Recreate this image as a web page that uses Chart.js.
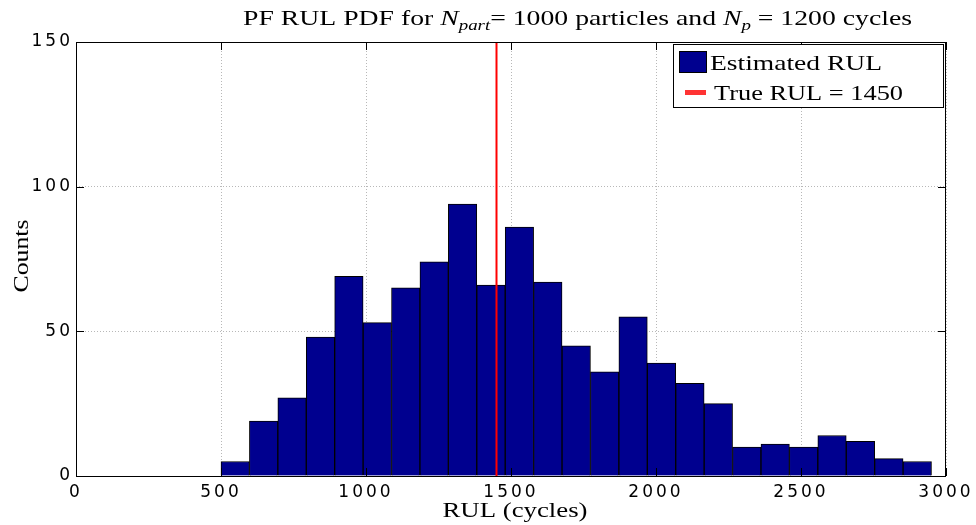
<!DOCTYPE html>
<html>
<head>
<meta charset="utf-8">
<script src="https://cdn.jsdelivr.net/npm/chart.js@4.4.1/dist/chart.umd.min.js"></script>
<style>
html,body{margin:0;padding:0;background:#fff;}
#wrap{width:976px;height:525px;position:relative;}
</style>
</head>
<body>
<div id="wrap"><canvas id="c"></canvas></div>
<script>
// ---- data ----
const binStart = 500;
const binWidth = 98;
const binCounts = [5, 19, 27, 48, 69, 53, 65, 74, 94, 66, 86, 67, 45, 36, 55, 39, 32, 25, 10, 11, 10, 14, 12, 6, 5];
const binCenters = binCounts.map((_, i) => binStart + binWidth * (i + 0.5));
const trueRUL = 1450;
const xTicks = [0, 500, 1000, 1500, 2000, 2500, 3000];
const yTicks = [0, 50, 100, 150];
const seriesLabels = ['Estimated RUL', 'True RUL = 1450'];

const SERIF = '"Liberation Serif", "Times New Roman", serif';
const SANS = '"DejaVu Sans", sans-serif';

function fitText(ctx, parts, x, y, width, align) {
  let nat = 0;
  parts.forEach(p => { ctx.font = p.font; nat += ctx.measureText(p.t).width; });
  const sx = width ? width / nat : 1;
  ctx.save();
  ctx.translate(x, y);
  ctx.scale(sx, 1);
  let cx = align === 'center' ? -nat / 2 : 0;
  ctx.textAlign = 'left';
  ctx.textBaseline = 'alphabetic';
  parts.forEach(p => {
    ctx.font = p.font;
    ctx.fillText(p.t, cx, p.dy || 0);
    cx += ctx.measureText(p.t).width;
  });
  ctx.restore();
}

const decorPlugin = {
  id: 'decor',
  beforeDraw(chart) {
    chart.ctx.letterSpacing = '3px';
  },
  beforeDatasetsDraw(chart) {
    chart.ctx.letterSpacing = '0px';
  },
  afterDraw(chart) {
    const ctx = chart.ctx;
    const a = chart.chartArea;
    const xs = chart.scales.x, ys = chart.scales.y;
    ctx.save();
    ctx.letterSpacing = '0px';
    // frame
    ctx.strokeStyle = '#000';
    ctx.lineWidth = 1;
    ctx.strokeRect(Math.round(a.left) + 0.5, Math.round(a.top) + 0.5, Math.round(a.right - a.left) - 1, Math.round(a.bottom - a.top));
    // inward ticks
    ctx.beginPath();
    xTicks.forEach(v => {
      const px = Math.round(xs.getPixelForValue(v)) + 0.5;
      ctx.moveTo(px, a.bottom); ctx.lineTo(px, a.bottom - 8);
      ctx.moveTo(px, a.top); ctx.lineTo(px, a.top + 8);
    });
    yTicks.forEach(v => {
      const py = Math.round(ys.getPixelForValue(v)) + 0.5;
      ctx.moveTo(a.left, py); ctx.lineTo(a.left + 8, py);
      ctx.moveTo(a.right, py); ctx.lineTo(a.right - 8, py);
    });
    ctx.stroke();

    ctx.fillStyle = '#000';
    // title
    const R = '22px ' + SERIF, I = 'italic 22px ' + SERIF, S = 'italic 15px ' + SERIF;
    fitText(ctx, [
      {t: 'PF RUL PDF for ', font: R},
      {t: 'N', font: I},
      {t: 'part', font: S, dy: 5},
      {t: '= 1000 particles and ', font: R},
      {t: 'N', font: I},
      {t: 'p', font: S, dy: 5},
      {t: ' = 1200 cycles', font: R}
    ], 243, 25, 669, 'left');
    // axis titles
    fitText(ctx, [{t: 'RUL (cycles)', font: R}], 515, 517, 145, 'center');
    ctx.save();
    ctx.translate(28, 256);
    ctx.rotate(-Math.PI / 2);
    fitText(ctx, [{t: 'Counts', font: R}], 0, 0, 73, 'center');
    ctx.restore();

    // legend
    const lx = 673, ly = 44, lw = 270, lh = 63;
    ctx.fillStyle = '#fff';
    ctx.fillRect(lx, ly, lw, lh);
    ctx.strokeStyle = '#000';
    ctx.lineWidth = 1;
    ctx.strokeRect(lx + 0.5, ly + 0.5, lw, lh);
    const ds = chart.data.datasets;
    ctx.fillStyle = ds[0].backgroundColor;
    ctx.fillRect(679, 51, 28, 22);
    ctx.strokeStyle = '#000';
    ctx.strokeRect(679.5, 51.5, 27, 21);
    ctx.fillStyle = '#ff3333';
    ctx.fillRect(685, 90, 21, 5);
    ctx.fillStyle = '#000';
    fitText(ctx, [{t: ds[0].label, font: R}], 710, 70, 172, 'left');
    fitText(ctx, [{t: ds[1].label, font: R}], 714, 100, 189, 'left');
    ctx.restore();
  }
};

new Chart(document.getElementById('c'), {
  type: 'bar',
  data: {
    datasets: [
      {
        type: 'bar',
        label: seriesLabels[0],
        data: binCenters.map((c, i) => ({x: c, y: binCounts[i]})),
        backgroundColor: '#00008F',
        borderColor: '#000',
        borderWidth: 1,
        borderSkipped: 'start',
        barPercentage: 1,
        categoryPercentage: 1,
        order: 1
      },
      {
        type: 'line',
        label: seriesLabels[1],
        data: [{x: trueRUL, y: yTicks[0]}, {x: trueRUL, y: yTicks[yTicks.length - 1]}],
        borderColor: '#ff0000',
        borderWidth: 2,
        pointRadius: 0,
        fill: false,
        order: 0
      }
    ]
  },
  options: {
    responsive: true,
    maintainAspectRatio: false,
    animation: false,
    events: [],
    layout: {padding: {left: 0, right: 30, top: 42, bottom: 0}},
    plugins: {legend: {display: false}, title: {display: false}, tooltip: {enabled: false}},
    scales: {
      x: {
        type: 'linear',
        offset: false,
        min: xTicks[0],
        max: xTicks[xTicks.length - 1],
        afterFit(s) { s.height = 49; },
        afterBuildTicks(s) { s.ticks = xTicks.map(v => ({value: v})); },
        ticks: {autoSkip: false, maxRotation: 0, color: '#000', padding: 6, font: {family: SANS, size: 17},
                callback: v => String(v)},
        grid: {color: '#b8b8b8', lineWidth: 1, drawTicks: false, offset: false},
        border: {display: false, dash: [1, 2]}
      },
      y: {
        type: 'linear',
        min: yTicks[0],
        max: yTicks[yTicks.length - 1],
        afterFit(s) { s.width = 76; },
        afterBuildTicks(s) { s.ticks = yTicks.map(v => ({value: v})); },
        ticks: {color: '#000', padding: 3, font: {family: SANS, size: 17}, callback: v => String(v)},
        grid: {color: '#b8b8b8', lineWidth: 1, drawTicks: false},
        border: {display: false, dash: [1, 2]}
      }
    }
  },
  plugins: [decorPlugin]
});
</script>
</body>
</html>
